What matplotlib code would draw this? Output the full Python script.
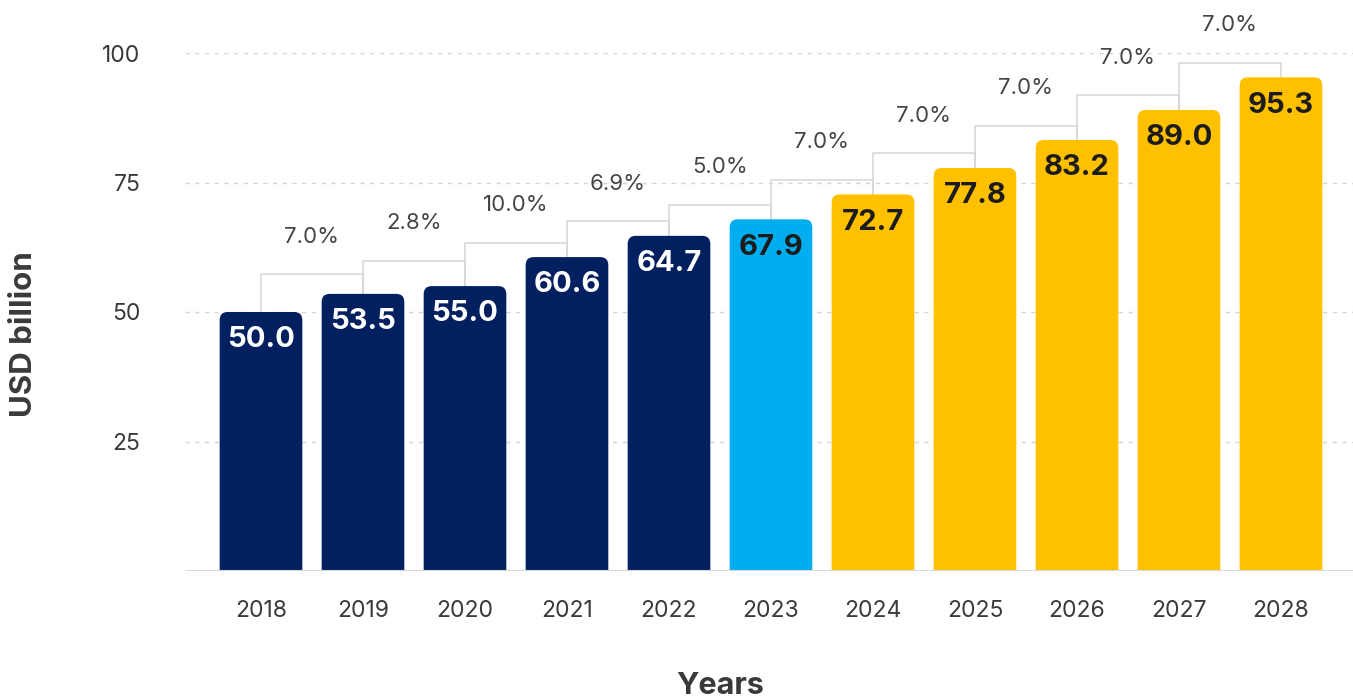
import numpy as np
import matplotlib.pyplot as plt
from matplotlib.patches import FancyBboxPatch

plt.rcParams['font.family'] = ['Inter', 'DejaVu Sans']

# datos
anios = ['2018', '2019', '2020', '2021', '2022', '2023', '2024', '2025', '2026', '2027', '2028']
valores = [50.0, 53.5, 55.0, 60.6, 64.7, 67.9, 72.7, 77.8, 83.2, 89.0, 95.3]
crecimiento = ['7.0%', '2.8%', '10.0%', '6.9%', '5.0%', '7.0%', '7.0%', '7.0%', '7.0%', '7.0%']
tipo = ['hist'] * 5 + ['actual'] + ['prev'] * 5

colores = {'hist': '#02205f', 'actual': '#00aeef', 'prev': '#ffc000'}
color_texto = {'hist': 'white', 'actual': '#1c1c1c', 'prev': '#1c1c1c'}

fig = plt.figure(figsize=(13.53, 6.98), dpi=100)
ax = fig.add_axes([185 / 1353, 1 - 571 / 698, 1 - 185 / 1353, (571 - 53) / 698])

ax.set_xlim(-0.745, 10.706)
ax.set_ylim(0, 100)

# rejilla punteada
for y in [25, 50, 75, 100]:
    ax.axhline(y, color='#d4d4d4', lw=1, ls=(0, (3, 4)), zorder=0)
ax.axhline(0, color='#d9d9d9', lw=1.5, zorder=3)

# barras con esquinas redondeadas
ancho = 0.81
px_x = 102.0            # pixeles por unidad x
px_y = 518 / 100.0      # pixeles por unidad y
radio = 8 / px_x
x = np.arange(len(valores))
for i, v in enumerate(valores):
    p = FancyBboxPatch((x[i] - ancho / 2, -10), ancho, v + 10,
                       boxstyle=f"round,pad=0,rounding_size={radio}",
                       mutation_aspect=px_x / px_y,
                       fc=colores[tipo[i]], ec='none', zorder=2)
    ax.add_patch(p)
    ax.annotate(f"{v:.1f}", (x[i], v), xytext=(0, -20), textcoords='offset points',
                ha='center', va='center', fontsize=21, fontweight='bold',
                color=color_texto[tipo[i]], zorder=4)

# corchetes de crecimiento
nivel_prev = 0
for i in range(len(valores) - 1):
    nivel = max(valores[i], valores[i + 1]) + 2.8
    nivel = max(nivel, nivel_prev + 2.6)
    if i == 0:
        nivel += 1.0
    nivel_prev = nivel
    ax.plot([x[i], x[i], x[i + 1], x[i + 1]],
            [valores[i], nivel, nivel, valores[i + 1]],
            color='#d6d6d6', lw=1.1, zorder=1, clip_on=False)
    ax.annotate(crecimiento[i], ((x[i] + x[i + 1]) / 2, nivel), xytext=(0, 27),
                textcoords='offset points', ha='center', va='center',
                fontsize=16, color='#444444', annotation_clip=False)

ax.set_xticks(x)
ax.set_xticklabels(anios)
ax.set_yticks([25, 50, 75, 100])
ax.tick_params(axis='both', length=0, labelsize=16.5, labelcolor='#3a3a3a')
ax.tick_params(axis='x', pad=21)
ax.tick_params(axis='y', pad=32)
for s in ax.spines.values():
    s.set_visible(False)

fig.text(24 / 1353, 1 - 334 / 698, 'USD billion', rotation=90, ha='center', va='center',
         fontsize=22.5, fontweight='bold', color='#3a3a3a')
fig.text(720 / 1353, 1 - 686 / 698, 'Years', ha='center', va='center',
         fontsize=22, fontweight='bold', color='#3a3a3a')

fig.savefig('out.png', dpi=100)
